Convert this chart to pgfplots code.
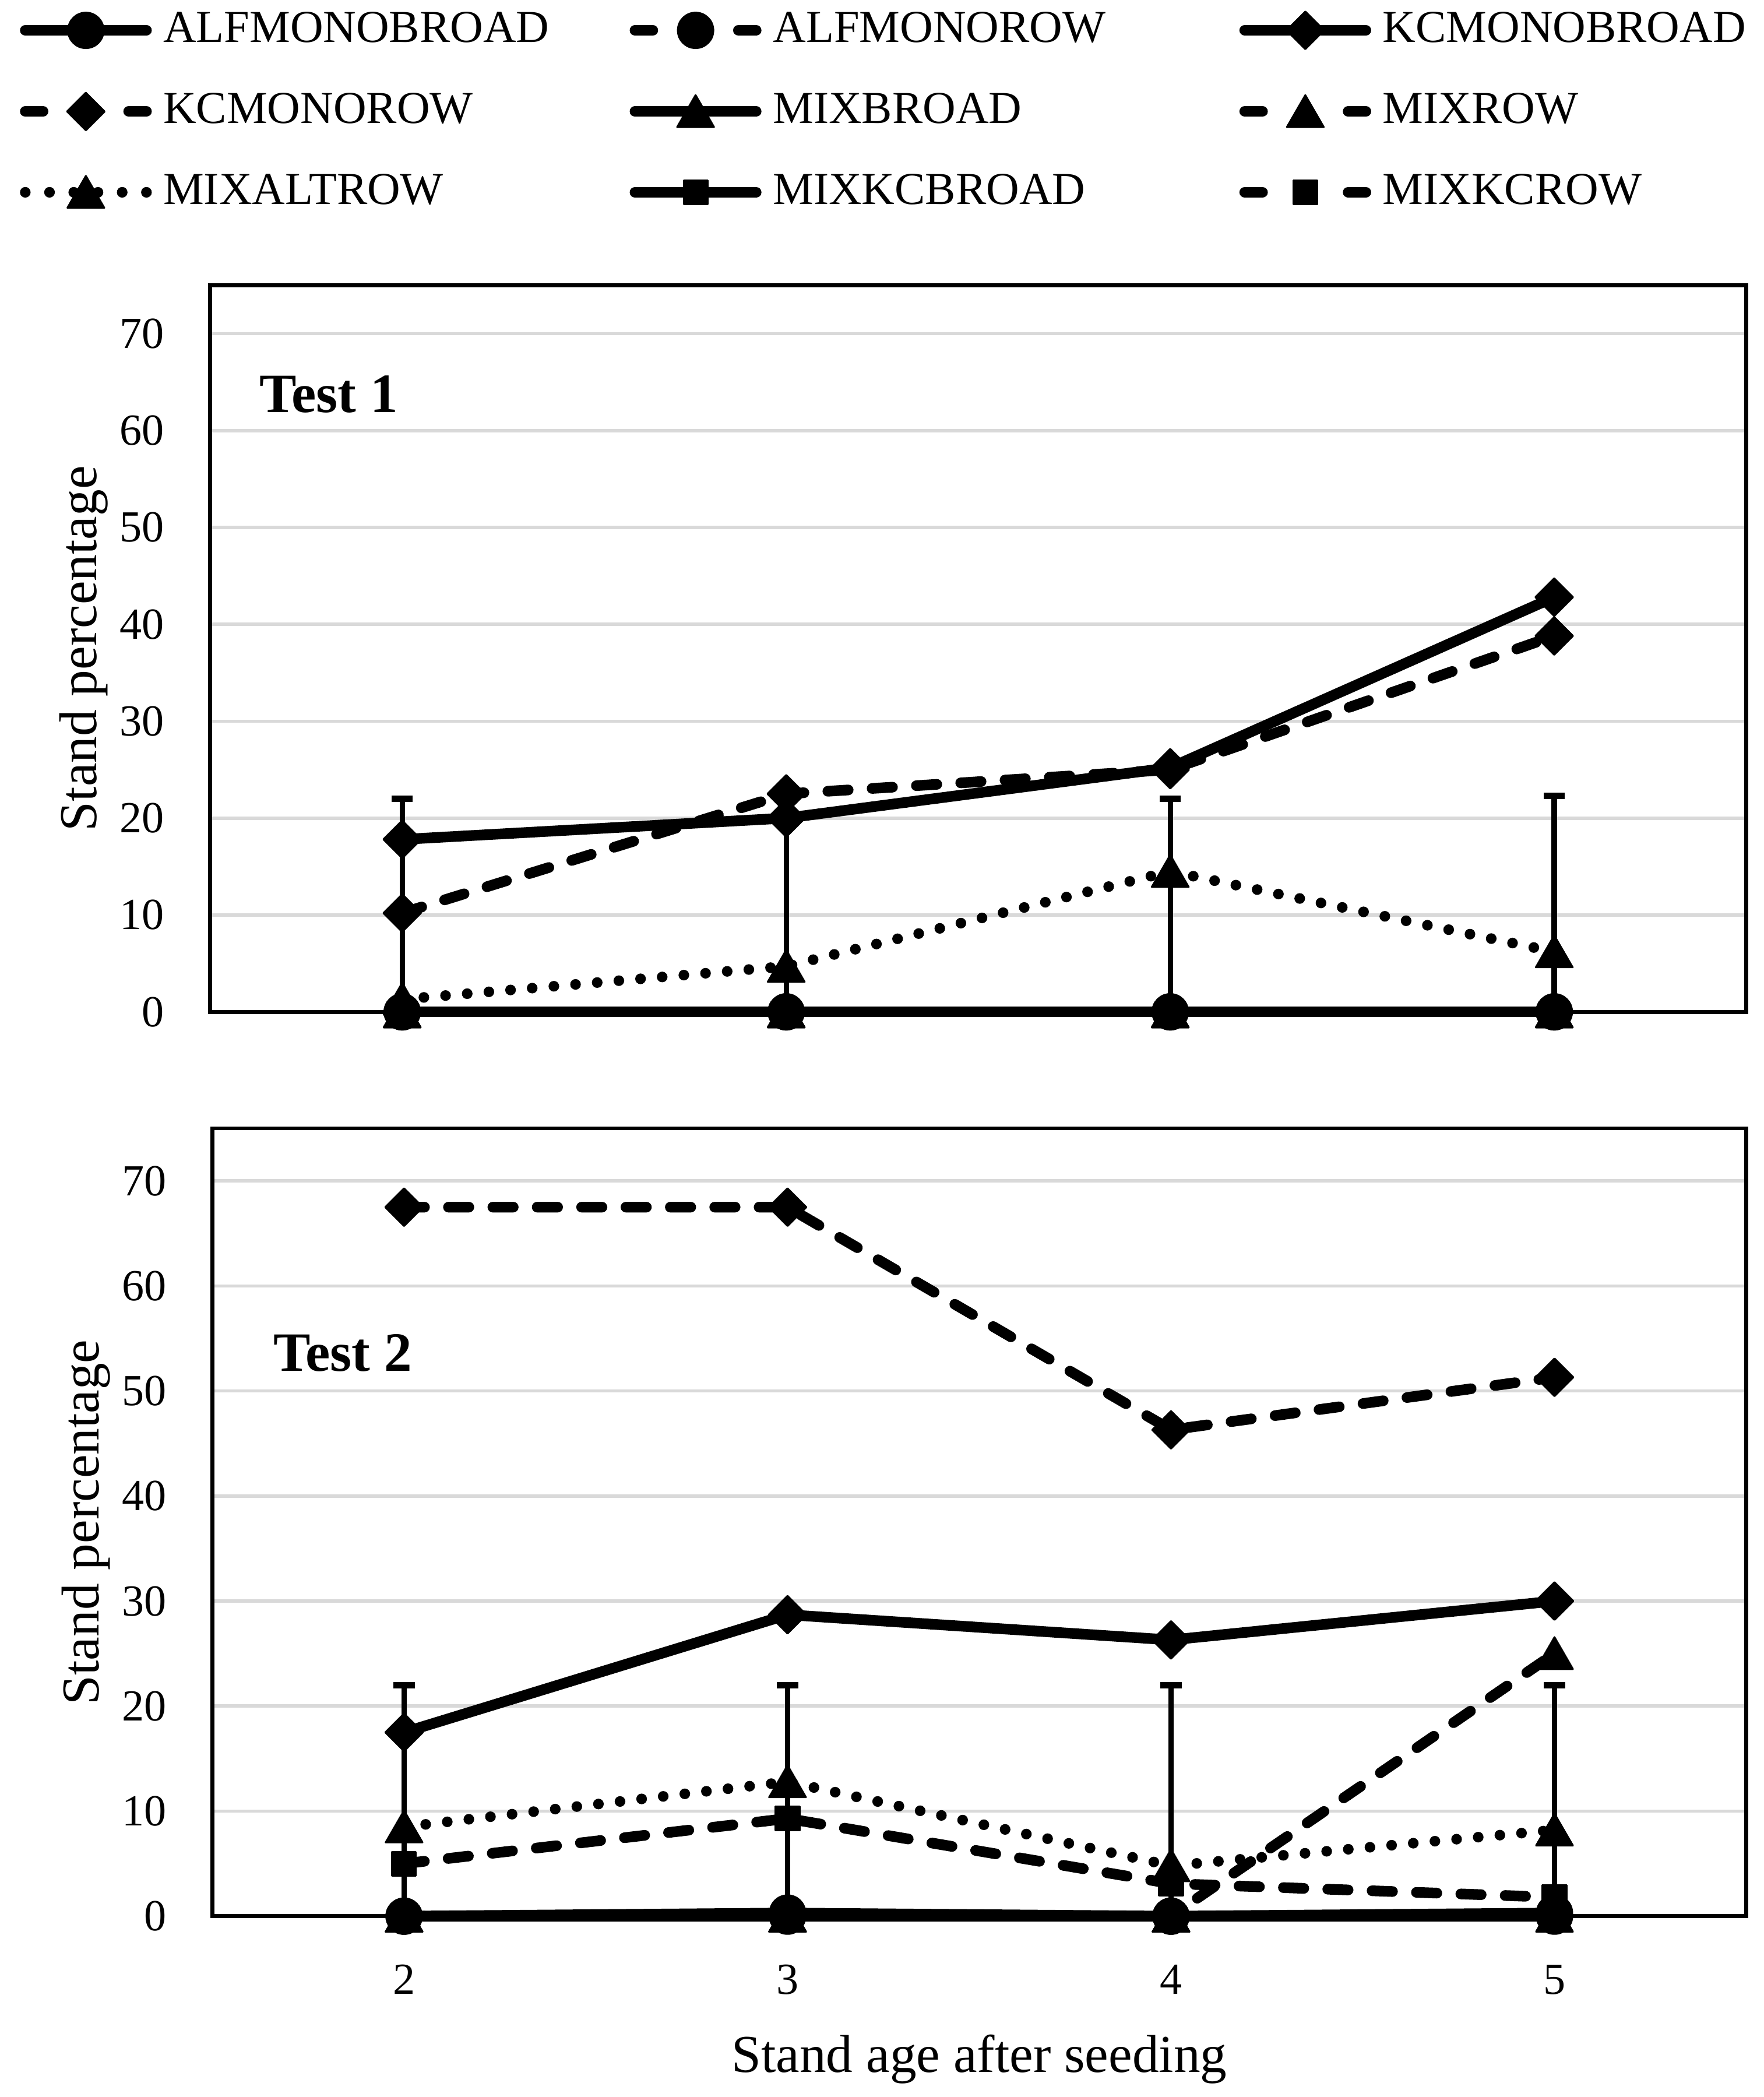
\documentclass[border=0pt]{standalone}
\usepackage{fontspec}
\setmainfont{Liberation Serif}
\usepackage{pgfplots}
\pgfplotsset{compat=1.18}
\definecolor{gridgray}{HTML}{D9D9D9}
\pgfplotsset{
  base/.style={
    scale only axis, clip=false,
    xmin=1.5, xmax=5.5, ymin=0, ymax=75,
    xtick={2,3,4,5}, ytick={0,10,...,70},
    major tick length=0pt,
    ymajorgrids, grid style={draw=gridgray, line width=0.75pt},
    axis line style={line width=0.9pt},
    tick label style={font=\fontsize{10}{12}\selectfont},
    /pgf/number format/assume math mode=true,
    yticklabel style={anchor=east, inner sep=0pt, xshift=-10.2pt},
    xticklabel style={anchor=north, inner sep=0pt, yshift=-10.8pt},
  },
  ser/.style={black, line width=2.4pt, line join=round, line cap=round},
  solidl/.style={ser, solid,
    legend image code/.code={\draw[mark repeat=2,mark phase=2,##1] plot coordinates {(1.2pt,0pt) (14.85pt,0pt) (28.5pt,0pt)};}},
  dashedl/.style={ser, dash pattern=on 4.6pt off 5.4pt,
    legend image code/.code={\draw[mark repeat=2,mark phase=2,##1,dash pattern=on 4pt off 19.3pt] plot coordinates {(1.2pt,0pt) (14.85pt,0pt) (28.5pt,0pt)};}},
  dottedl/.style={ser, dash pattern=on 0pt off 4.9pt,
    legend image code/.code={\draw[mark repeat=2,mark phase=2,##1,dash pattern=on 0pt off 5.46pt] plot coordinates {(1.2pt,0pt) (14.85pt,0pt) (28.5pt,0pt)};}},
  mcirc/.style={mark=*, mark size=4.0pt, mark options={solid, fill=black, line width=0.4pt}},
  mdia/.style={mark=square*, mark size=3.0pt, mark options={solid, fill=black, line width=0.4pt, rotate=45}},
  mtri/.style={mark=triangle*, mark size=4.8pt, mark options={solid, fill=black, line width=0.4pt, yshift=-1.1pt}},
  msq/.style={mark=square*, mark size=2.7pt, mark options={solid, fill=black, line width=0.4pt}},
  ebar/.style={forget plot, draw=none, mark=none,
    error bars/.cd, y dir=plus, y explicit,
    error mark=|,
    error bar style={draw=black, line width=1.2pt, solid},
    error mark options={draw=black, line width=1.4pt, mark size=2.4pt}},
}
\begin{document}
\begin{tikzpicture}
\useasboundingbox (0,0) rectangle (397.5pt,472.5pt);
% ---------------- Test 1 ----------------
\begin{axis}[base,
  at={(47.37pt,244.5pt)}, anchor=south west,
  width=346.14pt, height=163.74pt,
  xticklabels={},
  legend columns=3, legend cell align=left,
  legend style={at={(axis description cs:-0.12385,1.2395)}, anchor=west,
    draw=none, fill=none, inner sep=0pt, outer sep=0pt,
    column sep=2.6pt, row sep=9.8pt,
    nodes={inner sep=0pt, outer sep=0pt, font=\fontsize{10.3}{12}\selectfont}},
]
\addplot[ebar] coordinates {(2,0) +- (0,22) (3,0) +- (0,22) (4,0) +- (0,22) (5,0) +- (0,22.3)};
\addplot[solidl, mcirc] coordinates {(2,0) (3,0) (4,0) (5,0)};
\addlegendentry{\makebox[102.5pt][l]{ALFMONOBROAD}}
\addplot[dashedl, mcirc] coordinates {(2,0) (3,0) (4,0) (5,0)};
\addlegendentry{\makebox[102.5pt][l]{ALFMONOROW}}
\addplot[solidl, mdia] coordinates {(2,17.8) (3,20.0) (4,25.2) (5,42.8)};
\addlegendentry{\makebox[102.5pt][l]{KCMONOBROAD}}
\addplot[dashedl, mdia] coordinates {(2,10.2) (3,22.5) (4,25.0) (5,38.8)};
\addlegendentry{\makebox[102.5pt][l]{KCMONOROW}}
\addplot[solidl, mtri] coordinates {(2,0) (3,0) (4,0) (5,0)};
\addlegendentry{\makebox[102.5pt][l]{MIXBROAD}}
\addplot[dashedl, mtri] coordinates {(2,0) (3,0) (4,0) (5,0)};
\addlegendentry{\makebox[102.5pt][l]{MIXROW}}
\addplot[dottedl, mtri] coordinates {(2,1.3) (3,4.7) (4,14.5) (5,6.2)};
\addlegendentry{\makebox[102.5pt][l]{MIXALTROW}}
\addplot[solidl, msq] coordinates {(2,0) (3,0) (4,0) (5,0)};
\addlegendentry{\makebox[102.5pt][l]{MIXKCBROAD}}
\addplot[dashedl, msq] coordinates {(2,0) (3,0) (4,0) (5,0)};
\addlegendentry{\makebox[102.5pt][l]{MIXKCROW}}
\node[anchor=base west, inner sep=0pt, font=\fontsize{12.5}{14}\selectfont\bfseries] at (axis cs:1.6265,61.9) {Test 1};
\node[rotate=90, anchor=base, inner sep=0pt, font=\fontsize{12}{14}\selectfont] at ([xshift=-25.6pt]rel axis cs:0,0.5) {Stand percentage};
\end{axis}
% ---------------- Test 2 ----------------
\begin{axis}[base,
  at={(47.85pt,40.74pt)}, anchor=south west,
  width=345.66pt, height=177.51pt,
]
\addplot[ebar] coordinates {(2,0) +- (0,22) (3,0) +- (0,22) (4,0) +- (0,22) (5,0) +- (0,22)};
\addplot[solidl, mcirc] coordinates {(2,0) (3,0.3) (4,0) (5,0.3)};
\addplot[dashedl, mcirc] coordinates {(2,0) (3,0) (4,0) (5,0)};
\addplot[solidl, mdia] coordinates {(2,17.5) (3,28.7) (4,26.3) (5,30.0)};
\addplot[dashedl, mdia] coordinates {(2,67.5) (3,67.5) (4,46.3) (5,51.3)};
\addplot[solidl, mtri] coordinates {(2,0) (3,0) (4,0) (5,0)};
\addplot[dashedl, mtri] coordinates {(2,0) (3,0) (4,0) (5,25.0)};
\addplot[dottedl, mtri] coordinates {(2,8.5) (3,12.8) (4,4.8) (5,8.2)};
\addplot[solidl, msq] coordinates {(2,0) (3,0) (4,0) (5,0)};
\addplot[dashedl, msq] coordinates {(2,5.0) (3,9.3) (4,3.1) (5,1.8)};
\node[anchor=base west, inner sep=0pt, font=\fontsize{12.5}{14}\selectfont\bfseries] at (axis cs:1.658,51.9) {Test 2};
\node[rotate=90, anchor=base, inner sep=0pt, font=\fontsize{12}{14}\selectfont] at ([xshift=-25.6pt]rel axis cs:0,0.5) {Stand percentage};
\node[anchor=base, inner sep=0pt, font=\fontsize{12}{14}\selectfont] at ([yshift=-35.1pt]rel axis cs:0.5,0) {Stand age after seeding};
\end{axis}
\end{tikzpicture}
\end{document}
